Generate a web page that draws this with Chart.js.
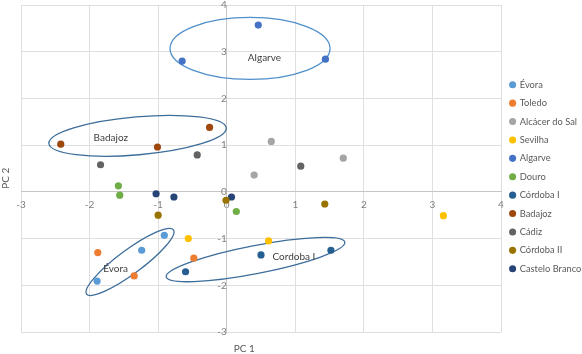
<!DOCTYPE html>
<html>
<head>
<meta charset="utf-8">
<script src="https://cdn.jsdelivr.net/npm/chart.js@4/dist/chart.umd.min.js"></script>
<style>
  html, body { margin: 0; padding: 0; background: #fff; }
  #wrap { width: 582px; height: 354px; }
</style>
</head>
<body>
<div id="wrap"><canvas id="pcaChart"></canvas></div>
<script>
// PCA scores, [PC 1, PC 2] per sample
const evora = [[-0.91, -0.93], [-1.24, -1.25], [-1.89, -1.91]];
const toledo = [[-1.88, -1.30], [-1.35, -1.80], [-0.48, -1.42]];
const alcacer = [[0.65, 1.08], [0.40, 0.36], [1.70, 0.72]];
const sevilha = [[-0.56, -1.00], [0.61, -1.05], [3.16, -0.51]];
const algarve = [[0.46, 3.57], [-0.65, 2.80], [1.44, 2.84]];
const douro = [[-1.58, 0.13], [-1.56, -0.07], [0.14, -0.42]];
const cordoba1 = [[-0.60, -1.71], [0.50, -1.35], [1.52, -1.25]];
const badajoz = [[-2.42, 1.02], [-1.01, 0.96], [-0.25, 1.38]];
const cadiz = [[-1.84, 0.58], [-0.43, 0.79], [1.08, 0.55]];
const cordoba2 = [[-0.01, -0.18], [-1.00, -0.50], [1.43, -0.26]];
const casteloBranco = [[-1.03, -0.04], [-0.77, -0.11], [0.07, -0.11]];

const seriesNames = ['Évora', 'Toledo', 'Alcácer do Sal', 'Sevilha', 'Algarve', 'Douro',
  'Córdoba I', 'Badajoz', 'Cádiz', 'Córdoba II', 'Castelo Branco'];
const seriesData = [evora, toledo, alcacer, sevilha, algarve, douro,
  cordoba1, badajoz, cadiz, cordoba2, casteloBranco];
const seriesColors = ['#5B9BD5', '#ED7D31', '#A5A5A5', '#FFC000', '#4472C4', '#70AD47',
  '#255E91', '#9E480E', '#636363', '#997300', '#264478'];

const xTicks = [-3, -2, -1, 0, 1, 2, 3, 4];
const yTicks = [-3, -2, -1, 0, 1, 2, 3, 4];

// group ellipses drawn over the plot (centre in data units, radii in px)
const groups = [
  {label: 'Algarve', cx: 0.34, cy: 3.07, rx: 80, ry: 31, rot: 0, lx: 0.55, ly: 2.86, color: '#4f8fcb'},
  {label: 'Badajoz', cx: -1.30, cy: 1.20, rx: 89, ry: 19, rot: -5, lx: -1.69, ly: 1.15, color: '#3d6d9a'},
  {label: 'Évora', cx: -1.41, cy: -1.50, rx: 54, ry: 12, rot: -36.5, lx: -1.62, ly: -1.65, color: '#3d6d9a'},
  {label: 'Cordoba I', cx: 0.42, cy: -1.45, rx: 91, ry: 14, rot: -11, lx: 0.98, ly: -1.39, color: '#3d6d9a'}
];

const FONT = 'Lato, "Open Sans", sans-serif';

const datasets = seriesNames.map((name, i) => ({
  label: name,
  data: seriesData[i].map(p => ({x: p[0], y: p[1]})),
  backgroundColor: seriesColors[i],
  borderColor: seriesColors[i],
  borderWidth: 0,
  pointRadius: 3.6,
  pointHoverRadius: 4
}));

// the axes sit inside the plot, so their label overhang should not shrink it
const noOverhang = s => {
  s.paddingTop = 0; s.paddingBottom = 0; s.paddingLeft = 0; s.paddingRight = 0;
};

const groupPlugin = {
  id: 'groups',
  beforeDatasetsDraw(chart) {
    const {ctx, scales: {x, y}} = chart;
    ctx.save();
    groups.forEach(g => {
      ctx.beginPath();
      ctx.ellipse(x.getPixelForValue(g.cx), y.getPixelForValue(g.cy), g.rx, g.ry,
        g.rot * Math.PI / 180, 0, Math.PI * 2);
      ctx.strokeStyle = g.color;
      ctx.lineWidth = 1.3;
      ctx.stroke();
    });
    ctx.font = '10px ' + FONT;
    ctx.fillStyle = '#404040';
    ctx.textAlign = 'center';
    ctx.textBaseline = 'middle';
    groups.forEach(g => {
      ctx.fillText(g.label, x.getPixelForValue(g.lx), y.getPixelForValue(g.ly));
    });
    ctx.restore();
  },
  afterDraw(chart) {
    const {ctx, chartArea} = chart;
    ctx.save();
    ctx.font = '10px ' + FONT;
    ctx.fillStyle = '#595959';
    ctx.textAlign = 'center';
    ctx.textBaseline = 'middle';
    ctx.fillText('PC 1', chartArea.left + (chartArea.right - chartArea.left) * 0.465, chartArea.bottom + 17);
    ctx.translate(6, chartArea.top + (chartArea.bottom - chartArea.top) * 0.53);
    ctx.rotate(-Math.PI / 2);
    ctx.fillText('PC 2', 0, 0);
    ctx.restore();
  }
};

new Chart(document.getElementById('pcaChart'), {
  type: 'scatter',
  data: {datasets},
  plugins: [groupPlugin],
  options: {
    responsive: true,
    maintainAspectRatio: false,
    animation: false,
    layout: {
      padding: {left: 21, right: 0, top: 5, bottom: 22}
    },
    plugins: {
      tooltip: {enabled: false},
      legend: {
        position: 'right',
        align: 'start',
        maxWidth: 81,
        title: {display: true, text: '', font: {size: 10, lineHeight: 1.2}, padding: {top: 54, bottom: 0}},
        labels: {
          usePointStyle: true,
          pointStyle: 'circle',
          boxWidth: 5,
          boxHeight: 5,
          padding: 9.1,
          color: '#595959',
          font: {family: FONT, size: 9.3}
        }
      }
    },
    scales: {
      x: {
        type: 'linear',
        position: {y: 0},
        min: -3,
        max: 4,
        afterBuildTicks: s => { s.ticks = xTicks.map(v => ({value: v})); },
        afterFit: noOverhang,
        grid: {color: '#dfdfdf', drawTicks: false},
        border: {color: '#c6c6c6'},
        ticks: {color: '#808080', padding: 7, maxRotation: 0, font: {family: FONT, size: 10}}
      },
      y: {
        type: 'linear',
        position: {x: 0},
        min: -3,
        max: 4,
        afterBuildTicks: s => { s.ticks = yTicks.map(v => ({value: v})); },
        afterFit: noOverhang,
        grid: {color: '#dfdfdf', drawTicks: false},
        border: {color: '#c6c6c6'},
        ticks: {color: '#808080', padding: 9, font: {family: FONT, size: 10}}
      }
    }
  }
});
</script>
</body>
</html>
